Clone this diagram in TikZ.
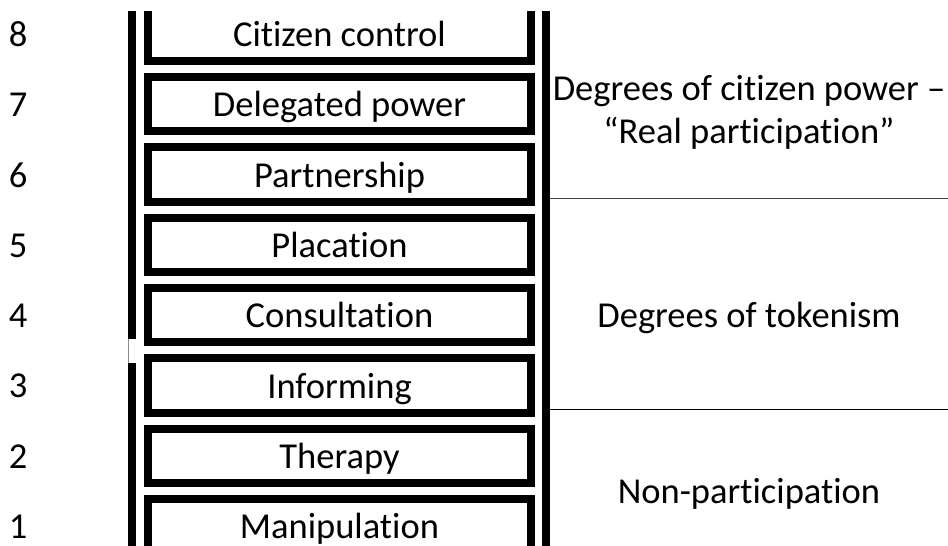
\documentclass[tikz,border=0pt]{standalone}
\usepackage{fontspec}
\setmainfont[Ligatures=NoCommon]{Carlito}
\begin{document}
\begin{tikzpicture}[x=1pt,y=-1pt,
  rail/.style={line width=8pt, line cap=butt},
  rung/.style={draw, line width=8pt, rectangle, minimum width=383pt,
    minimum height=54.3pt, inner sep=0pt, text height=25.5pt, text depth=0pt,
    font=\fontsize{36.5}{44}\selectfont},
  num/.style={anchor=base, inner sep=0pt, font=\fontsize{36.5}{44}\selectfont},
  band/.style={anchor=base, inner sep=0pt, font=\fontsize{36.5}{44}\selectfont},
  divider/.style={line width=1.8pt}]
\useasboundingbox (0,0) rectangle (948,546);
\fill[white] (0,0) rectangle (948,546);

\begin{scope}
  \clip (0,11) rectangle (948,546);
  % rungs of the ladder, bottom to top
  \foreach \k/\txt in {1/Manipulation,2/Therapy,3/Informing,4/Consultation,
                       5/Placation,6/Partnership,7/Delegated power,8/Citizen control}{
    \pgfmathsetmacro\rt{495-(\k-1)*70.33}
    \node[rung] (rung\k) at (339.5,\rt+31.15) {\txt};
  }
  % side rails
  \coordinate (lrtop) at (132,11);
  \coordinate (lrgapa) at (132,339);
  \coordinate (lrgapb) at (132,363);
  \coordinate (lrbot) at (132,546);
  \coordinate (rrtop) at (546,11);
  \coordinate (rrbot) at (546,546);
  \draw[rail] (lrtop) -- (lrgapa);
  \draw[rail] (lrgapb) -- (lrbot);
  \draw[line width=1pt, black!45] (128.8,339) -- (128.8,363);
  \draw[rail] (rrtop) -- (rrbot);
\end{scope}

% rung numbers
\foreach \k in {1,...,8}{
  \pgfmathsetmacro\rt{495-(\k-1)*70.33}
  \node[num] (num\k) at (18,\rt+43.65) {\k};
}

% band dividers
\coordinate (d1a) at (550,198.5);
\coordinate (d1b) at (948,198.5);
\coordinate (d2a) at (550,409.5);
\coordinate (d2b) at (948,409.5);
\draw[divider, black!75] (d1a) -- (d1b);
\draw[divider] (d2a) -- (d2b);

% band labels
\node[band] (powerA) at (749,100) {Degrees of citizen power –};
\node[band] (powerB) at (749,143.5) {“Real participation”};
\node[band] (token) at (749,327.7) {Degrees of tokenism};
\node[band] (nonp) at (749,503.5) {Non-participation};
\end{tikzpicture}
\end{document}
